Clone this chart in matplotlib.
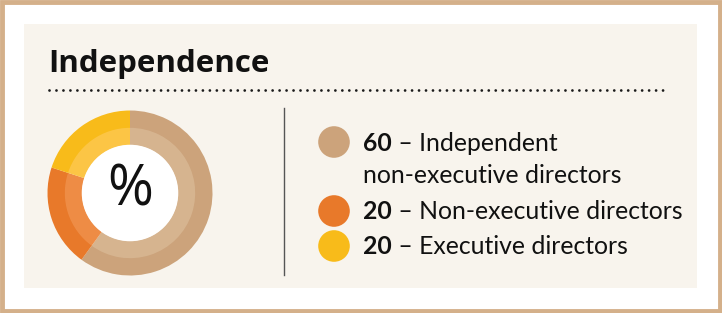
import matplotlib
matplotlib.use("Agg")
import matplotlib.pyplot as plt
from matplotlib.patches import Rectangle, Circle

# ---- data ----
categories = ["Independent\nnon-executive directors", "Non-executive directors", "Executive directors"]
values = [60, 20, 20]
outer_colors = ["#cca37b", "#e8792a", "#f8bb1a"]
inner_colors = ["#d6b48f", "#ee8c45", "#fcc545"]
title = "Independence"
center_label = "%"

title_font = "Open Sans"
leg_font = "Lato"
leg_size = 17.8

W, H = 722, 313
fig = plt.figure(figsize=(W / 100, H / 100), dpi=100)
fig.patch.set_facecolor("white")
ax = fig.add_axes([0, 0, 1, 1])
ax.set_xlim(0, W)
ax.set_ylim(H, 0)
ax.axis("off")

# outer border
ax.add_patch(Rectangle((2, 2), W - 4, H - 4, fill=False, edgecolor="#d4b08a", linewidth=3.5))
# panel
ax.add_patch(Rectangle((24, 24), 673, 264, facecolor="#f8f4ed", edgecolor="none"))

# title
ax.text(48, 72, title, fontsize=22.5, fontweight="bold", family=title_font,
        color="#111111", va="baseline", ha="left")
# dotted rule
ax.plot([49, 669], [89.5, 89.5], linestyle=(0, (0.01, 2.5)), dash_capstyle="round",
        linewidth=2.0, color="#1a1a1a")

# vertical separator
ax.plot([284, 284], [108, 275], color="#555555", linewidth=1)

# donut
cx, cy, r = 130, 193, 82.5
pax = fig.add_axes([(cx - r) / W, (H - cy - r) / H, 2 * r / W, 2 * r / H])
pax.pie(values, colors=outer_colors, radius=1.0, startangle=90, counterclock=False,
        wedgeprops=dict(width=0.22, edgecolor="none"))
pax.pie(values, colors=inner_colors, radius=0.79, startangle=90, counterclock=False,
        wedgeprops=dict(width=0.21, edgecolor="none"))
pax.add_patch(Circle((0, 0), 0.585, facecolor="white", edgecolor="none"))
pax.text(0, 0.02, center_label, fontsize=40, family="Open Sans", fontweight="normal",
         ha="center", va="center", color="#111111")
pax.set_xlim(-1, 1)
pax.set_ylim(-1, 1)
pax.set_aspect("equal")
pax.axis("off")

# legend
circle_y = [142, 211, 246]
text_base = [151, 219, 254]
line_gap = 32
for i, (cat, v) in enumerate(zip(categories, values)):
    ax.add_patch(Circle((334, circle_y[i]), 15.8, facecolor=outer_colors[i], edgecolor="none"))
    lines = cat.split("\n")
    t1 = ax.text(363, text_base[i], str(v), fontsize=leg_size, fontweight="bold",
                 family=leg_font, va="baseline", ha="left", color="#111111")
    ax.annotate(" \u2013 " + lines[0], xy=(1, 0), xycoords=t1, va="bottom", ha="left",
                fontsize=leg_size, family=leg_font, color="#111111")
    for k, extra in enumerate(lines[1:]):
        ax.text(363, text_base[i] + line_gap * (k + 1), extra, fontsize=leg_size,
                family=leg_font, va="baseline", ha="left", color="#111111")

fig.savefig("out.png", dpi=100, facecolor="white")
